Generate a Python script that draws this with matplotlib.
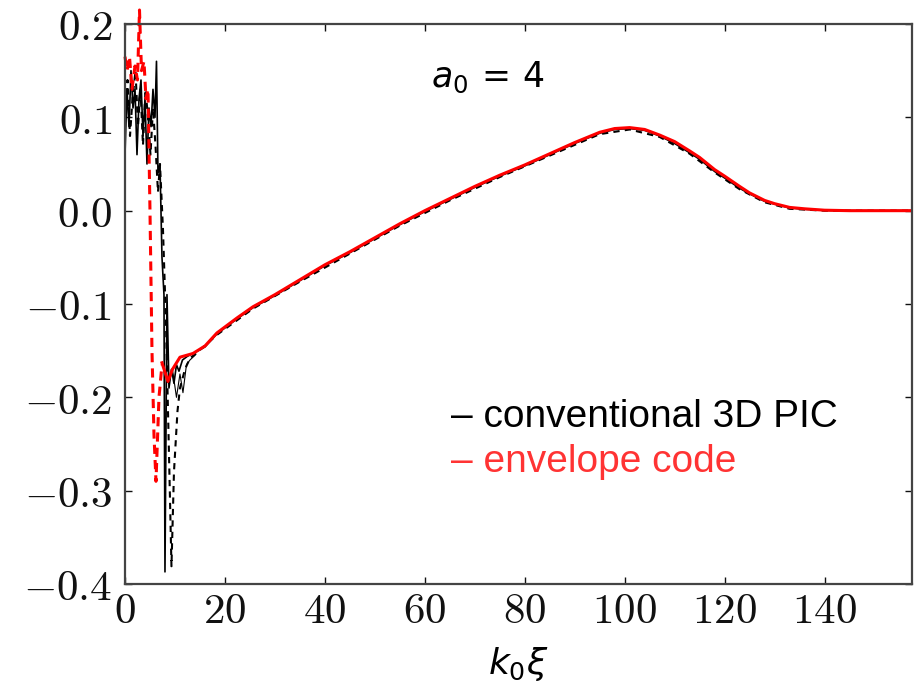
import matplotlib
matplotlib.use('Agg')
import matplotlib.pyplot as plt
from matplotlib.ticker import FuncFormatter

# --- data ---
# envelope code, solid red (main wake curve)
env_x = [7.4, 8.6, 9.5, 11.0, 13.6, 16.0, 18.4, 22.4, 25.6, 30, 35, 40, 45, 50, 55, 60, 65,
         70, 75, 80, 85, 90, 95, 98, 101, 104, 107, 110, 113, 115, 118, 120, 123, 125,
         128, 130, 133, 136, 140, 145, 150, 157.5]
env_y = [-0.163, -0.183, -0.170, -0.157, -0.153, -0.145, -0.131, -0.115, -0.103, -0.090,
         -0.074, -0.058, -0.044, -0.029, -0.014, 0.000, 0.013, 0.026, 0.038, 0.049, 0.061,
         0.073, 0.084, 0.088, 0.089, 0.087, 0.081, 0.074, 0.064, 0.057, 0.044, 0.037,
         0.026, 0.019, 0.011, 0.0075, 0.0035, 0.002, 0.0005, 0.0, 0.0, 0.0]

# envelope code, dashed red (front region)
envd_x = [0, 0.4, 0.9, 1.4, 2.0, 2.5, 2.9, 3.3, 3.8, 4.2, 4.6, 5.0, 5.4, 5.8, 6.2, 6.8, 7.4]
envd_y = [0.165, 0.150, 0.165, 0.130, 0.155, 0.140, 0.215, 0.150, 0.160, 0.120, 0.130,
          0.000, -0.150, -0.240, -0.290, -0.200, -0.165]

# conventional 3D PIC, solid black
pic_x = [0, 0.4, 0.8, 1.2, 1.6, 2.0, 2.4, 2.8, 3.2, 3.6, 4.0, 4.4, 4.8, 5.2, 5.6, 6.0,
         6.3, 6.6, 7.0, 7.4, 7.8, 8.0, 8.4, 8.8, 9.3, 9.8, 10.3, 10.8, 11.5, 12.5, 13.6,
         16, 18.4, 22.4, 25.6, 30, 35, 40, 45, 50, 55, 60, 65, 70, 75, 80, 85, 90, 95,
         98, 101, 104, 107, 110, 113, 115, 118, 120, 123, 125, 128, 130, 133, 136, 140,
         145, 150, 157.5]
pic_y = [0.06, 0.13, 0.09, 0.15, 0.11, 0.13, 0.06, 0.12, 0.14, 0.08, 0.12, 0.05, 0.11,
         0.09, 0.13, 0.10, 0.16, 0.04, 0.05, -0.05, -0.09, -0.387, -0.09, -0.19, -0.17,
         -0.185, -0.165, -0.172, -0.160, -0.156, -0.153, -0.146, -0.132, -0.116, -0.104,
         -0.091, -0.075, -0.059, -0.045, -0.030, -0.015, -0.001, 0.012, 0.025, 0.037,
         0.048, 0.060, 0.072, 0.083, 0.087, 0.088, 0.086, 0.080, 0.072, 0.062, 0.055,
         0.042, 0.035, 0.024, 0.018, 0.010, 0.007, 0.003, 0.0015, 0.0003, 0.0, 0.0, 0.0]

# conventional 3D PIC, dashed black
picd_x = [0, 0.5, 1.0, 1.5, 2.1, 2.6, 3.1, 3.6, 4.1, 4.6, 5.1, 5.6, 6.1, 6.6, 7.0, 7.6,
          8.2, 8.8, 9.3, 9.8, 10.5, 11.0, 12.0, 13.0, 14.0, 18.4, 25.6, 35, 45, 55, 65,
          75, 85, 95, 101, 107, 113, 118, 123, 128, 133, 140, 157.5]
picd_y = [0.10, 0.14, 0.08, 0.12, 0.15, 0.09, 0.13, 0.07, 0.13, 0.10, 0.06, 0.11, 0.07,
          0.02, 0.05, -0.02, -0.12, -0.26, -0.381, -0.28, -0.215, -0.19, -0.17, -0.158,
          -0.154, -0.133, -0.105, -0.076, -0.046, -0.016, 0.011, 0.036, 0.059, 0.082,
          0.087, 0.079, 0.061, 0.041, 0.023, 0.009, 0.002, 0.0, 0.0]

# thin extra PIC line near the first trough
pict_x = [9.5, 10.3, 11.0, 11.6, 12.3, 13.0, 14.0]
pict_y = [-0.170, -0.200, -0.175, -0.195, -0.165, -0.160, -0.155]

xticks = [0, 20, 40, 60, 80, 100, 120, 140]
yticks = [-0.4, -0.3, -0.2, -0.1, 0.0, 0.1, 0.2]

plt.rcParams['mathtext.fontset'] = 'cm'

fig = plt.figure(figsize=(9.18, 6.96), dpi=100)
ax = fig.add_axes([125 / 918, 1 - 584 / 696, (912 - 125) / 918, (584 - 24) / 696])

ax.plot(pict_x, pict_y, color='black', lw=0.8)
ax.plot(picd_x, picd_y, color='black', lw=1.5, ls=(0, (3, 2.5)))
ax.plot(pic_x, pic_y, color='black', lw=1.2)
ax.plot(envd_x, envd_y, color='red', lw=2.2, ls=(0, (3, 2)), clip_on=False)
ax.plot(env_x, env_y, color='red', lw=2.2)

ax.set_xlim(0, 157.5)
ax.set_ylim(-0.4, 0.2)
ax.set_xticks(xticks)
ax.set_yticks(yticks)
ax.xaxis.set_major_formatter(FuncFormatter(lambda v, p: f'${v:g}$'))
ax.yaxis.set_major_formatter(FuncFormatter(lambda v, p: f'${v:.1f}$'))
ax.tick_params(direction='in', length=5, width=1, top=True, right=True,
               labelsize=31, colors='#111111')
ax.tick_params(axis='y', pad=9)
ax.tick_params(axis='x', pad=4)
for s in ax.spines.values():
    s.set_color('#444444')
    s.set_linewidth(1.6)

ax.set_xlabel(r'$k_0\xi$', fontsize=26, math_fontfamily='dejavusans', labelpad=10)

# annotations placed in pixel coordinates (origin bottom-left)
ax.text(488, 696 - 77, r'$a_0\,=\,4$', transform=None, fontsize=25,
        math_fontfamily='dejavusans', ha='center', va='center')
ax.text(451, 696 - 417, '\u2013 conventional 3D PIC', transform=None, fontsize=28,
        family='Liberation Sans', color='black', ha='left', va='center')
ax.text(451, 696 - 462, '\u2013 envelope code', transform=None, fontsize=28,
        family='Liberation Sans', color='#ff3333', ha='left', va='center')

fig.savefig('out.png', dpi=100)
